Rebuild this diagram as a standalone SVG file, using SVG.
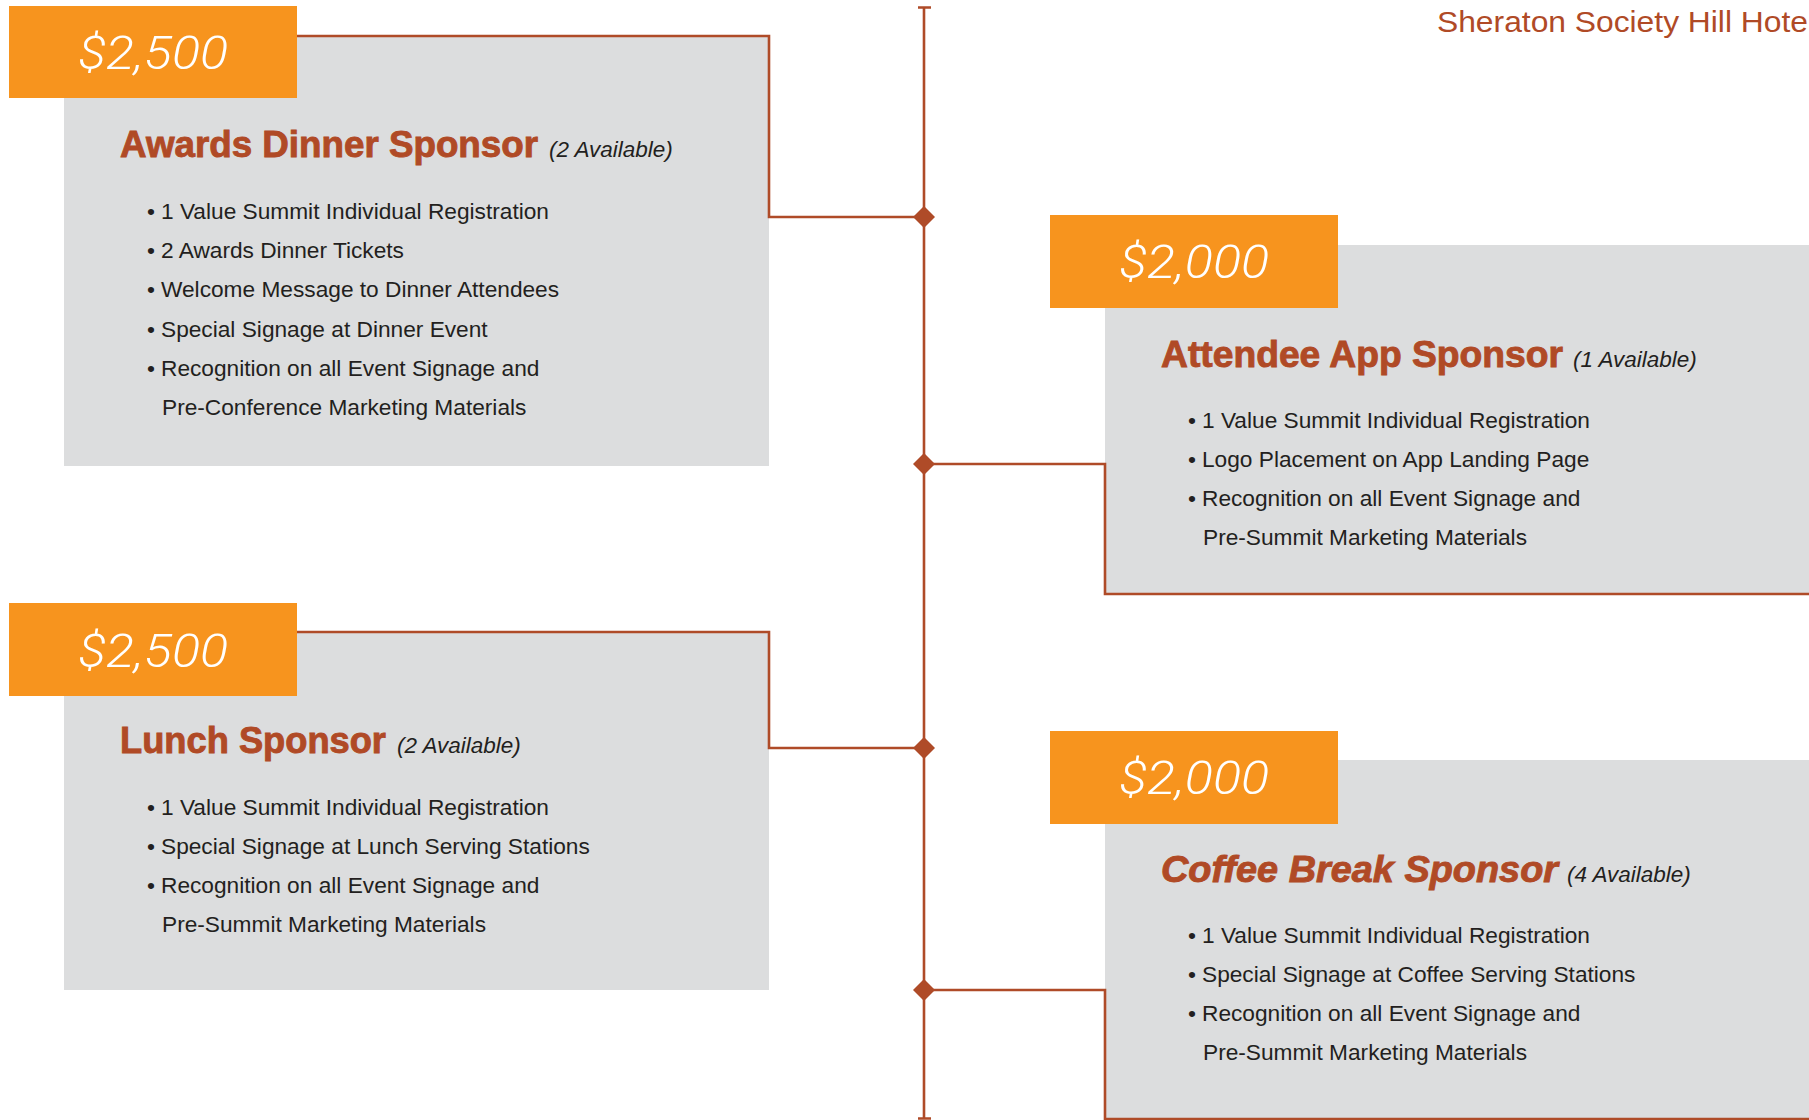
<svg xmlns="http://www.w3.org/2000/svg" width="1809" height="1120" viewBox="0 0 1809 1120">
<defs>
<style>
.panel{fill:#DCDDDE}
.tag{fill:#F7941E}
.conn{fill:none;stroke:#AF4B28;stroke-width:2.6}
.price{font-family:Roboto,"Liberation Sans",sans-serif;font-weight:300;font-style:italic;font-size:46px;fill:#FFFFFF;text-anchor:middle}
.head{font-family:"Liberation Sans",Arial,sans-serif;font-weight:bold;font-size:36.8px;fill:#B04A26;stroke:#B04A26;stroke-width:0.9}
.headi{font-style:italic}
.avail{font-family:"Liberation Sans",Arial,sans-serif;font-style:italic;font-size:22.5px;fill:#231F20}
.body{font-family:"Liberation Sans",Arial,sans-serif;font-size:22.7px;fill:#231F20}
.venue{font-family:"Liberation Sans",Arial,sans-serif;font-size:30px;fill:#B04A26}
</style>
<path id="dia" d="M0,-11 L11,0 L0,11 L-11,0Z" fill="#AF4B28"/>
</defs>
<rect x="0" y="0" width="1809" height="1120" fill="#FFFFFF"/>

<text class="venue" x="1437" y="32" textLength="378" lengthAdjust="spacingAndGlyphs">Sheraton Society Hill Hotel</text>

<g id="awards">
<rect class="panel" x="64" y="36" width="705" height="430"/>
<rect class="tag" x="9" y="6" width="288" height="92"/>
<text class="price" x="153" y="69" textLength="150" lengthAdjust="spacingAndGlyphs">$2,500</text>
<text class="head" x="120" y="157" textLength="418" lengthAdjust="spacingAndGlyphs">Awards Dinner Sponsor</text>
<text class="avail" x="549" y="157">(2 Available)</text>
<text class="body" x="147" y="219">•</text><text class="body" x="161" y="219">1 Value Summit Individual Registration</text>
<text class="body" x="147" y="258">•</text><text class="body" x="161" y="258">2 Awards Dinner Tickets</text>
<text class="body" x="147" y="297">•</text><text class="body" x="161" y="297">Welcome Message to Dinner Attendees</text>
<text class="body" x="147" y="337">•</text><text class="body" x="161" y="337">Special Signage at Dinner Event</text>
<text class="body" x="147" y="376">•</text><text class="body" x="161" y="376">Recognition on all Event Signage and</text>
<text class="body" x="162" y="415">Pre-Conference Marketing Materials</text>
</g>

<g id="lunch">
<rect class="panel" x="64" y="632" width="705" height="358"/>
<rect class="tag" x="9" y="603" width="288" height="93"/>
<text class="price" x="153" y="667" textLength="150" lengthAdjust="spacingAndGlyphs">$2,500</text>
<text class="head" x="120" y="753" textLength="266" lengthAdjust="spacingAndGlyphs">Lunch Sponsor</text>
<text class="avail" x="397" y="753">(2 Available)</text>
<text class="body" x="147" y="815">•</text><text class="body" x="161" y="815">1 Value Summit Individual Registration</text>
<text class="body" x="147" y="854">•</text><text class="body" x="161" y="854">Special Signage at Lunch Serving Stations</text>
<text class="body" x="147" y="893">•</text><text class="body" x="161" y="893">Recognition on all Event Signage and</text>
<text class="body" x="162" y="932">Pre-Summit Marketing Materials</text>
</g>

<g id="app">
<rect class="panel" x="1105" y="245" width="704" height="349"/>
<rect class="tag" x="1050" y="215" width="288" height="93"/>
<text class="price" x="1194" y="278" textLength="150" lengthAdjust="spacingAndGlyphs">$2,000</text>
<text class="head" x="1161" y="367" textLength="402" lengthAdjust="spacingAndGlyphs">Attendee App Sponsor</text>
<text class="avail" x="1573" y="367">(1 Available)</text>
<text class="body" x="1188" y="428">•</text><text class="body" x="1202" y="428">1 Value Summit Individual Registration</text>
<text class="body" x="1188" y="467">•</text><text class="body" x="1202" y="467">Logo Placement on App Landing Page</text>
<text class="body" x="1188" y="506">•</text><text class="body" x="1202" y="506">Recognition on all Event Signage and</text>
<text class="body" x="1203" y="545">Pre-Summit Marketing Materials</text>
</g>

<g id="coffee">
<rect class="panel" x="1105" y="760" width="704" height="360"/>
<rect class="tag" x="1050" y="731" width="288" height="93"/>
<text class="price" x="1194" y="794" textLength="150" lengthAdjust="spacingAndGlyphs">$2,000</text>
<text class="head headi" x="1161" y="882" textLength="397" lengthAdjust="spacingAndGlyphs">Coffee Break Sponsor</text>
<text class="avail" x="1567" y="882">(4 Available)</text>
<text class="body" x="1188" y="943">•</text><text class="body" x="1202" y="943">1 Value Summit Individual Registration</text>
<text class="body" x="1188" y="982">•</text><text class="body" x="1202" y="982">Special Signage at Coffee Serving Stations</text>
<text class="body" x="1188" y="1021">•</text><text class="body" x="1202" y="1021">Recognition on all Event Signage and</text>
<text class="body" x="1203" y="1060">Pre-Summit Marketing Materials</text>
</g>

<g id="connectors">
<path class="conn" d="M924,7 V1119"/>
<path class="conn" d="M918,7.5 H931 M918,1118.5 H931"/>
<path class="conn" d="M297,36 H769 V217 H924"/>
<path class="conn" d="M297,632 H769 V748 H924"/>
<path class="conn" d="M924,464 H1105 V594 H1809"/>
<path class="conn" d="M924,990 H1105 V1119 H1809"/>
<use href="#dia" x="924" y="217"/>
<use href="#dia" x="924" y="464"/>
<use href="#dia" x="924" y="748"/>
<use href="#dia" x="924" y="990"/>
</g>
</svg>
